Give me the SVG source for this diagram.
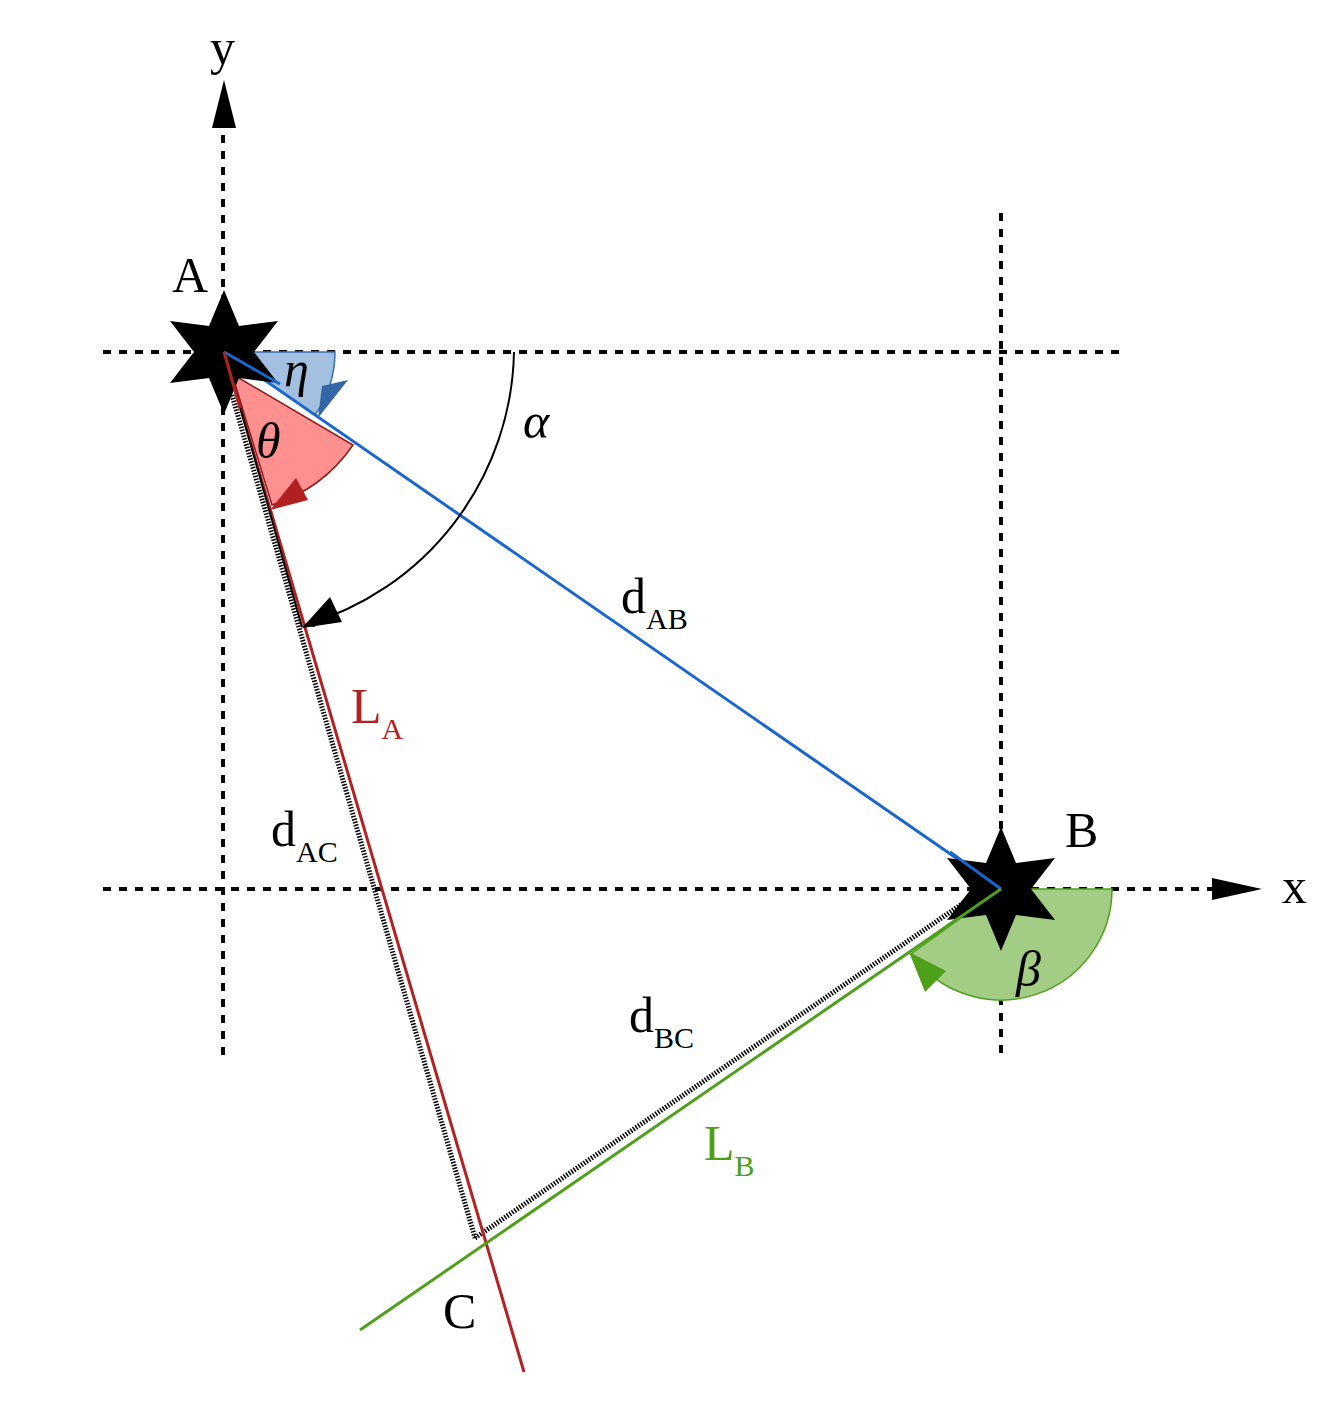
<svg xmlns="http://www.w3.org/2000/svg" width="1321" height="1403" viewBox="0 0 1321 1403">
<style>
.ax{stroke:#000;stroke-width:4;stroke-dasharray:8 8;fill:none}
.t{font-family:"Liberation Serif",serif;font-size:50px}
.s{font-family:"Liberation Serif",serif;font-size:30px}
.i{font-style:italic}
</style>
<defs>
<marker id="ah" viewBox="0 0 10 10" refX="9" refY="5" markerWidth="10" markerHeight="10" markerUnits="userSpaceOnUse" orient="auto"><path d="M0,0L10,5L0,10z"/></marker>
</defs>
<rect width="1321" height="1403" fill="#fff"/>
<g id="axes">
<line class="ax" x1="103" y1="352" x2="1127" y2="352"/>
<line class="ax" x1="103" y1="889" x2="1215" y2="889"/>
<line class="ax" x1="223" y1="1055" x2="223" y2="130"/>
<line class="ax" x1="1001" y1="213" x2="1001" y2="1055"/>
<path d="M1212,878L1262,889L1212,900z"/>
<path d="M212,128L224,80L236,128z"/>
</g>
<g id="sectors">
<path d="M224,352L335,352A111,111 0 0 1 315,415z" fill="#a3c0e0" stroke="#3a6db0" stroke-width="1.5"/>
<path d="M232,374L353,445A155,155 0 0 1 272,505z" fill="#ff9090" stroke="#8b1a1a" stroke-width="1.5"/>
<path d="M1001,889L1112,889A111,111 0 0 1 911,954z" fill="#a3cd84" stroke="#4ea01a" stroke-width="1.5"/>
<path d="M348,380L318,418L322,386z" fill="#3465a4"/>
<path d="M308,500L270,510L296,478z" fill="#b11f1f"/>
<path d="M909,952L946,971L925,992z" fill="#4ea01a"/>
</g>
<g id="connectors">
<line x1="232" y1="395" x2="475" y2="1238" stroke="#000" stroke-width="5" stroke-dasharray="1.5 1.5"/>
<line x1="475" y1="1238" x2="975" y2="895" stroke="#000" stroke-width="5" stroke-dasharray="1.5 1.5"/>
<line x1="224" y1="352" x2="524" y2="1372" stroke="#b22222" stroke-width="3"/>
<line x1="1001" y1="889" x2="360" y2="1330" stroke="#4ea01a" stroke-width="3"/>
<line x1="224" y1="352" x2="1001" y2="889" stroke="#1a66cc" stroke-width="3"/>
<line x1="232" y1="378" x2="302" y2="627" stroke="#000" stroke-width="2"/>
<path d="M514,352A290,290 0 0 1 305,625" fill="none" stroke="#000" stroke-width="2" marker-end="url(#ah)"/>
<path d="M342,622L302,628L330,597z"/>
</g>
<g id="nodeA"><path d="M224,290L239,326L278,321L254,352L278,383L239,378L224,414L209,378L170,383L194,352L170,321L209,326z"/><line x1="224" y1="352" x2="280" y2="384" stroke="#1a66cc" stroke-width="3"/><line x1="224" y1="352" x2="240" y2="408" stroke="#b22222" stroke-width="3"/><text class="t" x="172" y="292">A</text></g>
<g id="nodeB"><path d="M1001,827L1016,863L1055,858L1031,889L1055,920L1016,915L1001,951L986,915L947,920L971,889L947,858L986,863z"/><line x1="1001" y1="889" x2="950" y2="852" stroke="#1a66cc" stroke-width="3"/><line x1="1001" y1="889" x2="940" y2="931" stroke="#4ea01a" stroke-width="3"/><text class="t" x="1065" y="847">B</text></g>
<g id="nodeC"><text class="t" x="443" y="1328">C</text></g>
<g id="labels">
<text class="t" x="210" y="64">y</text>
<text class="t" x="1282" y="903">x</text>
<text class="t i" x="284" y="386">η</text>
<text class="t i" x="256" y="458">θ</text>
<text class="t i" x="523" y="438">α</text>
<text class="t i" x="1016" y="986">β</text>
<text class="t" x="621" y="613">d<tspan class="s" dy="16">AB</tspan></text>
<text class="t" x="271" y="846">d<tspan class="s" dy="16">AC</tspan></text>
<text class="t" x="629" y="1032">d<tspan class="s" dy="16">BC</tspan></text>
<text class="t" x="351" y="723" fill="#b22222">L<tspan class="s" dy="16">A</tspan></text>
<text class="t" x="704" y="1160" fill="#4ea01a">L<tspan class="s" dy="16">B</tspan></text>
</g>
</svg>
